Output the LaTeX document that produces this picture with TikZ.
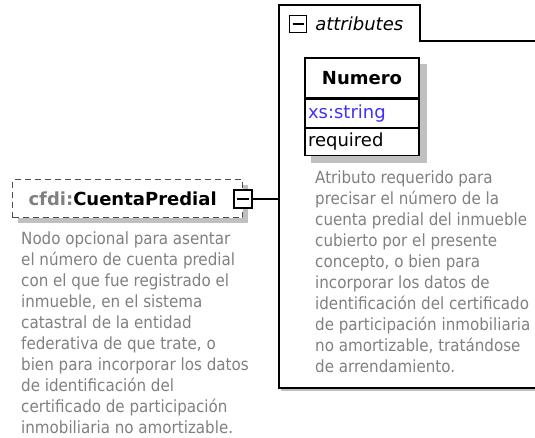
\documentclass[tikz,border=0pt]{standalone}
\usepackage{fontspec}
\setmainfont{DejaVu Sans}
\newfontfamily\descfont{DejaVu Sans Condensed}
\usetikzlibrary{positioning, shadows, backgrounds}
\definecolor{descgray}{RGB}{128,128,128}
\definecolor{shadowgray}{RGB}{192,192,192}
\definecolor{typeblue}{RGB}{64,48,255}
\tikzset{elembox/.style={draw=black!70, dash pattern=on 6pt off 4pt, line width=1pt, fill=white,
                         drop shadow={shadow xshift=5pt, shadow yshift=-5pt, fill=shadowgray, opacity=1}},
         togglebox/.style={draw, fill=white, line width=1.2pt, minimum size=18pt, inner sep=0pt},
         attrcell/.style={draw, fill=white, line width=1.2pt, minimum width=114pt, inner sep=0pt,
                          font=\fontsize{18}{20}\selectfont},
         desc/.style={descgray, font=\descfont\fontsize{16.8}{21}\selectfont, align=left,
                      anchor=north west, inner sep=0pt},
         link/.style={line width=1.2pt}}

\begin{document}
\begin{tikzpicture}[x=1pt,y=-1pt]
\useasboundingbox (0,0) rectangle (535,438);
% element
\node[elembox, anchor=west, text width=198pt, align=left, inner xsep=16pt, minimum height=38pt,
      font=\fontsize{18}{20}\selectfont\bfseries] (elem) at (12,199)
      {\textcolor{descgray}{cfdi:}CuentaPredial};
\node[togglebox] (elemtoggle) at (elem.east) {};
\draw[link] ([xshift=-6pt]elemtoggle.center) -- ([xshift=6pt]elemtoggle.center);
\node[desc] (elemdesc) at (21,232) {Nodo opcional para asentar\\
el número de cuenta predial\\
con el que fue registrado el\\
inmueble, en el sistema\\
catastral de la entidad\\
federativa de que trate, o\\
bien para incorporar los datos\\
de identificación del\\
certificado de participación\\
inmobiliaria no amortizable.};
% attributes
\draw[shadowgray, line width=2pt] (281,390) -- (545,390);
\draw[link] (545,41) -- (420,41) -- (420,5) -- (279,5) -- (279,388) -- (545,388);
\coordinate (attrjoin) at (279,0 |- elemtoggle.east);
\draw[link] (elemtoggle.east) -- (attrjoin);
\node[togglebox, minimum size=17pt] (attrtoggle) at (298,24) {};
\draw[link] ([xshift=-5.5pt]attrtoggle.center) -- ([xshift=5.5pt]attrtoggle.center);
\node[right=8pt of attrtoggle, inner sep=0pt, font=\fontsize{18}{20}\selectfont\itshape] (attrlabel) {attributes};
\node[attrcell, minimum height=40pt, font=\fontsize{18}{20}\selectfont\bfseries] (numhead) at (362,78) {Numero};
\node[attrcell, minimum height=28pt, text width=108pt, align=left, inner xsep=3pt, text=typeblue,
      below=0pt of numhead] (numtype) {xs:string};
\node[attrcell, minimum height=27pt, text width=108pt, align=left, inner xsep=3pt,
      below=0pt of numtype] (numuse) {required};
\begin{scope}[on background layer]
\fill[shadowgray] ([shift={(7pt,-7pt)}]numhead.north west) rectangle ([shift={(7pt,-7pt)}]numuse.south east);
\end{scope}
\node[desc] (numdesc) at (315,170.5) {Atributo requerido para\\
precisar el número de la\\
cuenta predial del inmueble\\
cubierto por el presente\\
concepto, o bien para\\
incorporar los datos de\\
identificación del certificado\\
de participación inmobiliaria\\
no amortizable, tratándose\\
de arrendamiento.};
\end{tikzpicture}
\end{document}
